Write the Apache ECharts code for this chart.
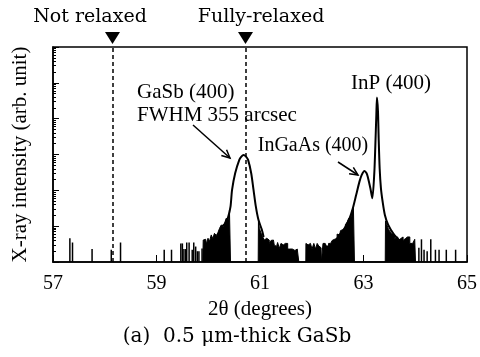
<!DOCTYPE html>
<html lang="en">
<head>
<meta charset="UTF-8">
<title>XRD 0.5 um GaSb</title>
<script src="https://cdn.jsdelivr.net/npm/echarts@6/dist/echarts.min.js"></script>
<style>
    html, body { margin: 0; padding: 0; background: #fff; }
    #main { width: 480px; height: 357px; }
</style>
</head>
<body>
<div id="main"></div>
<script type="text/javascript">
    // x axis ticks (2θ, degrees)
    var xTicks = [57, 59, 61, 63, 65];

    // GaSb (400) peak
    var gasbTheta  = [60.27, 60.33, 60.38, 60.43, 60.46, 60.52, 60.60, 60.64, 60.683, 60.73, 60.77, 60.83, 60.875, 60.92, 60.97, 61.035, 61.07];
    var gasbCounts = [10, 12, 17, 35, 103, 300, 706, 874, 975, 874, 706, 300, 103, 35, 15, 8, 5];

    // InGaAs (400) + InP (400) peaks
    var inpTheta  = [62.443, 62.538, 62.634, 62.73, 62.794, 62.858, 62.922, 62.966, 63.018, 63.06, 63.082, 63.133, 63.171, 63.21, 63.229, 63.248, 63.26, 63.28, 63.293, 63.312, 63.337, 63.37, 63.413, 63.478, 63.594, 63.72];
    var inpCounts = [3.7, 5.7, 8.7, 16.6, 31.6, 74, 175, 270, 348, 300, 240, 114, 60, 331, 1850, 12700, 38900, 15800, 2850, 414, 114, 48, 20.6, 10.8, 5.7, 3.7];

    // dense noise in the peak tails (drawn filled)
    var tailTheta = [
        59.895, 59.91, 59.95, 59.98, 60.01, 60.04, 60.075, 60.10, 60.14, 60.17, 60.20, 60.236, 60.267, 60.30, 60.33, 60.363, 60.395, 60.425, 60.435,
        60.965, 60.975, 61.0, 61.035, 61.067, 61.10, 61.13, 61.16, 61.196, 61.23, 61.26, 61.29, 61.32, 61.36, 61.39, 61.42, 61.45, 61.49, 61.52, 61.55, 61.60, 61.65, 61.70, 61.74, 61.76,
        61.885, 61.89, 61.93, 61.96, 61.99, 62.02, 62.06, 62.09, 62.12, 62.15, 62.18, 62.19,
        62.215, 62.22, 62.26, 62.30, 62.35, 62.38, 62.41, 62.44, 62.47, 62.51, 62.54, 62.57, 62.60, 62.63, 62.67, 62.70, 62.73, 62.76, 62.79, 62.82, 62.83,
        63.42, 63.43, 63.47, 63.50, 63.53, 63.56, 63.59, 63.62, 63.66, 63.69, 63.72, 63.75, 63.78, 63.81, 63.85, 63.88, 63.91, 63.95, 63.98, 64.00, 64.01
    ];
    var tailCounts = [
        1, 4.1, 4.3, 3.2, 4.6, 3.8, 5.7, 4.5, 6.3, 5.5, 6.5, 8.7, 10.8, 9.5, 12, 16.6, 15, 28, 1,
        1, 14, 8.7, 6.5, 5.1, 4.1, 4.6, 4.1, 3.3, 4, 4.1, 3, 2.7, 3.5, 2.4, 3.3, 3, 3.3, 3.3, 2.3, 2.3, 2.1, 2.3, 2.2, 1,
        1, 3.3, 3, 3.3, 3.3, 2.3, 3.3, 2.3, 3.3, 2.8, 2.5, 1,
        1, 3.3, 3.3, 2.8, 3.3, 3.7, 4, 4.3, 4.5, 6, 5.7, 7.5, 8, 9, 11, 13, 16.6, 18, 26, 34, 1,
        1, 14, 11, 8, 7, 6, 6, 4.5, 5, 4, 4.5, 5, 4, 4.5, 5, 5, 3.3, 3.3, 3.3, 4.3, 1
    ];

    // isolated spikes on the background
    var spikeTheta  = [57.326, 57.377, 57.755, 58.126, 58.305, 59.149, 59.29, 59.47, 59.50, 59.53, 59.565, 59.584, 59.63, 59.69, 59.72, 59.757, 59.79, 59.82, 59.88, 64.07, 64.12, 64.17, 64.23, 64.30, 64.39, 64.46, 64.60, 64.78];
    var spikeCounts = [4.6, 3.5, 2.3, 2.2, 3.5, 2.2, 2.2, 3.3, 3.3, 2.3, 2.3, 3.5, 3.5, 2.2, 3.5, 2.7, 2, 2, 2.4, 2.5, 4.3, 2.2, 2, 4.3, 2.2, 2.2, 2.2, 2.2];

    // not relaxed / fully-relaxed GaSb positions
    var markerTheta = [58.15, 60.72];

    function pairs(xs, ys) {
        return xs.map(function (x, i) { return [x, ys[i]]; });
    }

    var serif = 'Liberation Serif';
    var wide = 'DejaVu Serif';

    // open arrow head, drawn as a polyline
    function arrow(x1, y1, x2, y2) {
        var a = Math.atan2(y2 - y1, x2 - x1), L = 9, s = 0.45;
        return [
            { type: 'line', shape: { x1: x1, y1: y1, x2: x2, y2: y2 }, style: { stroke: '#000', lineWidth: 1.5 } },
            { type: 'polyline', shape: { points: [
                [x2 - L * Math.cos(a - s), y2 - L * Math.sin(a - s)],
                [x2, y2],
                [x2 - L * Math.cos(a + s), y2 - L * Math.sin(a + s)]
            ] }, style: { stroke: '#000', lineWidth: 1.5, fill: null } }
        ];
    }

    function label(text, x, y, font, size, align) {
        return {
            type: 'text',
            style: {
                x: x, y: y, text: text, fill: '#000',
                font: size + 'px "' + font + '"',
                textAlign: align || 'center', textVerticalAlign: 'middle'
            }
        };
    }

    var myChart = echarts.init(document.getElementById('main'));
    var option = {
        animation: false,
        backgroundColor: '#fff',
        grid: {
            left: 53, right: 10, top: 47, bottom: 95,
            show: true, borderColor: '#000', borderWidth: 1.5
        },
        xAxis: {
            type: 'value',
            min: xTicks[0], max: xTicks[xTicks.length - 1], interval: xTicks[1] - xTicks[0],
            name: '2θ (degrees)', nameLocation: 'middle', nameGap: 36,
            nameTextStyle: { fontFamily: serif, fontSize: 21, color: '#000' },
            axisLine: { onZero: false, lineStyle: { color: '#000', width: 1.5 } },
            axisTick: { inside: true, length: 7, lineStyle: { color: '#000', width: 1 } },
            axisLabel: { fontFamily: serif, fontSize: 20, color: '#000', margin: 12 },
            splitLine: { show: false }
        },
        yAxis: {
            type: 'log', logBase: 10, min: 1, max: 1e6,
            name: 'X-ray intensity (arb. unit)', nameLocation: 'middle', nameGap: 22,
            nameTextStyle: { fontFamily: serif, fontSize: 21, color: '#000' },
            axisLine: { show: true, lineStyle: { color: '#000', width: 1.5 } },
            axisTick: { show: true, inside: true, length: 6, lineStyle: { color: '#000', width: 1 } },
            minorTick: { show: true, splitNumber: 9, length: 3, lineStyle: { color: '#000', width: 1 } },
            axisLabel: { show: false },
            splitLine: { show: false }
        },
        series: [
            {
                name: 'spikes', type: 'bar', barWidth: 1.5, silent: true,
                itemStyle: { color: '#000' },
                data: pairs(spikeTheta, spikeCounts)
            },
            {
                name: 'tails', type: 'line', step: 'middle', symbol: 'none', silent: true,
                lineStyle: { color: '#000', width: 1 },
                areaStyle: { color: '#000', opacity: 1, origin: 'start' },
                data: pairs(tailTheta, tailCounts)
            },
            {
                name: 'GaSb', type: 'line', smooth: 0.25, symbol: 'none', silent: true,
                lineStyle: { color: '#000', width: 2 },
                data: pairs(gasbTheta, gasbCounts),
                markLine: {
                    silent: true, symbol: ['none', 'none'],
                    label: { show: false },
                    lineStyle: { color: '#000', width: 1.5, type: [4, 3] },
                    data: markerTheta.map(function (t) { return { xAxis: t }; })
                },
                markPoint: {
                    silent: true, symbol: 'triangle', symbolRotate: 180,
                    symbolSize: [15, 12], symbolOffset: [0, -9],
                    itemStyle: { color: '#000' },
                    label: { show: false },
                    data: markerTheta.map(function (t) { return { coord: [t, 1e6] }; })
                }
            },
            {
                name: 'InGaAs/InP', type: 'line', smooth: 0.25, symbol: 'none', silent: true,
                lineStyle: { color: '#000', width: 2 },
                data: pairs(inpTheta, inpCounts)
            }
        ],
        graphic: [
            label('Not relaxed', 90, 17, wide, 19),
            label('Fully-relaxed', 261, 17, wide, 19),
            label('GaSb (400)', 137, 92, serif, 21, 'left'),
            label('FWHM 355 arcsec', 137, 115, serif, 21, 'left'),
            label('InP (400)', 391, 83, serif, 21),
            label('InGaAs (400)', 313, 146, serif, 20),
            label('(a)  0.5 μm-thick GaSb', 237, 337, wide, 20)
        ].concat(arrow(193, 125, 230, 158)).concat(arrow(338, 162, 358, 175))
    };
    option && myChart.setOption(option);
</script>
</body>
</html>
